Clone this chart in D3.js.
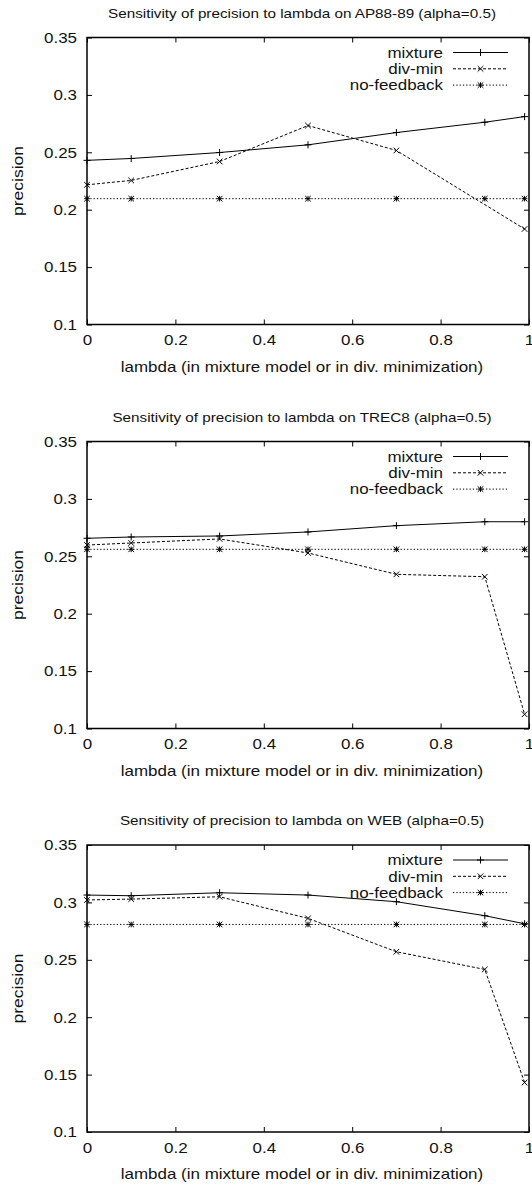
<!DOCTYPE html>
<html>
<head>
<meta charset="utf-8">
<script src="https://cdn.jsdelivr.net/npm/d3@7/dist/d3.min.js"></script>
<style>
  body { margin: 0; background: #fff; }
  text { font-family: "Liberation Sans", Arial, Helvetica, sans-serif; fill: #111; }
</style>
</head>
<body>
<svg id="chart" width="532" height="1189"></svg>
<script>
// lambda values used on every run
const lambdas = [0, 0.1, 0.3, 0.5, 0.7, 0.9, 0.99];

// AP88-89
const apMixture = [0.243, 0.2446, 0.2498, 0.2565, 0.2672, 0.2762, 0.2811];
const apDivMin = [0.2217, 0.2255, 0.242, 0.2733, 0.2516, null, 0.1832];
const apNoFeedback = [0.2096, 0.2096, 0.2096, 0.2096, 0.2096, 0.2096, 0.2096];

// TREC8
const trecMixture = [0.2657, 0.2668, 0.2677, 0.2712, 0.2767, 0.2801, 0.2801];
const trecDivMin = [0.2598, 0.2616, 0.2651, 0.2529, 0.2343, 0.2322, 0.1124];
const trecNoFeedback = [0.2561, 0.2561, 0.2561, 0.2561, 0.2561, 0.2561, 0.2561];

// WEB
const webMixture = [0.3064, 0.3058, 0.3084, 0.3064, 0.3006, 0.2884, 0.2814];
const webDivMin = [0.3021, 0.3029, 0.3049, 0.2861, 0.257, 0.2416, 0.1431];
const webNoFeedback = [0.2808, 0.2808, 0.2808, 0.2808, 0.2808, 0.2808, 0.2808];

const titles = [
  'Sensitivity of precision to lambda on AP88-89 (alpha=0.5)',
  'Sensitivity of precision to lambda on TREC8 (alpha=0.5)',
  'Sensitivity of precision to lambda on WEB (alpha=0.5)',
];
const seriesNames = ['mixture', 'div-min', 'no-feedback'];
const xTicks = [0, 0.2, 0.4, 0.6, 0.8, 1];
const xTickLabels = ['0', '0.2', '0.4', '0.6', '0.8', '1'];
const yTicks = [0.1, 0.15, 0.2, 0.25, 0.3, 0.35];
const yTickLabels = ['0.1', '0.15', '0.2', '0.25', '0.3', '0.35'];
const xLabel = 'lambda (in mixture model or in div. minimization)';
const yLabel = 'precision';

const panels = [
  { title: titles[0], series: [apMixture, apDivMin, apNoFeedback] },
  { title: titles[1], series: [trecMixture, trecDivMin, trecNoFeedback] },
  { title: titles[2], series: [webMixture, webDivMin, webNoFeedback] },
];

const STRETCH = 1.13;
const left = 87, right = 529, plotH = 287;
const tops = [37.5, 441.5, 845];

const svg = d3.select('#chart');

// helvetica in the original looks wider, so stretch text a bit
function widen(sel) {
  sel.each(function () {
    const w = this.getComputedTextLength();
    d3.select(this).attr('textLength', w * STRETCH).attr('lengthAdjust', 'spacingAndGlyphs');
  });
}

const dashes = [null, '3,2', '1.3,2'];

function marker(kind, r) {
  const p = d3.path();
  if (kind === 0 || kind === 2) {
    p.moveTo(-r, 0); p.lineTo(r, 0);
    p.moveTo(0, -r); p.lineTo(0, r);
  }
  if (kind === 1 || kind === 2) {
    p.moveTo(-r, -r); p.lineTo(r, r);
    p.moveTo(-r, r); p.lineTo(r, -r);
  }
  return p.toString();
}

panels.forEach((panel, pi) => {
  const top = tops[pi];
  const bottom = top + plotH;

  const x = d3.scaleLinear().domain([0, 1]).range([left, right]);
  const y = d3.scaleLinear().domain([0.1, 0.35]).range([bottom, top]);

  const g = svg.append('g');

  // title
  g.append('text')
    .attr('x', 302)
    .attr('y', top - 20)
    .attr('text-anchor', 'middle')
    .style('font-size', '13.5px')
    .text(panel.title)
    .call(widen);

  // axes with inward ticks (gnuplot style, mirrored)
  const fmtX = d => xTickLabels[xTicks.indexOf(d)];
  const fmtY = d => yTickLabels[yTicks.indexOf(d)];

  const axB = g.append('g').attr('transform', `translate(0,${bottom})`)
    .call(d3.axisBottom(x).tickValues(xTicks).tickFormat(fmtX).tickSize(-5).tickPadding(10));
  const axT = g.append('g').attr('transform', `translate(0,${top})`)
    .call(d3.axisTop(x).tickValues(xTicks).tickFormat('').tickSize(-5));
  const axL = g.append('g').attr('transform', `translate(${left},0)`)
    .call(d3.axisLeft(y).tickValues(yTicks).tickFormat(fmtY).tickSize(-5).tickPadding(10));
  const axR = g.append('g').attr('transform', `translate(${right},0)`)
    .call(d3.axisRight(y).tickValues(yTicks).tickFormat('').tickSize(-5));

  [axB, axT, axL, axR].forEach(a => {
    a.select('.domain').remove();
    a.selectAll('line').attr('stroke', '#000').attr('stroke-width', 1);
    a.selectAll('text').attr('font-family', null).style('font-size', '15px');
  });
  axB.selectAll('text').attr('dy', '0.71em');
  axB.selectAll('text').call(widen);
  axL.selectAll('text').call(widen);

  // frame
  g.append('rect')
    .attr('x', left).attr('y', top)
    .attr('width', right - left).attr('height', plotH)
    .attr('fill', 'none').attr('stroke', '#000').attr('stroke-width', 1.5);

  // axis labels
  g.append('text')
    .attr('x', 302).attr('y', bottom + 47)
    .attr('text-anchor', 'middle')
    .style('font-size', '15px')
    .text(xLabel)
    .call(widen);
  g.append('text')
    .attr('transform', `translate(23,${(top + bottom) / 2}) rotate(-90)`)
    .attr('text-anchor', 'middle')
    .style('font-size', '15.5px')
    .text(yLabel)
    .call(widen);

  // lines and points
  const line = d3.line().x(d => x(d[0])).y(d => y(d[1]));
  panel.series.forEach((vals, si) => {
    const pts = lambdas.map((l, i) => [l, vals[i]]).filter(p => p[1] != null);
    g.append('path')
      .attr('d', line(pts))
      .attr('fill', 'none')
      .attr('stroke', '#000')
      .attr('stroke-width', 1)
      .attr('stroke-dasharray', dashes[si]);
    g.selectAll(null)
      .data(pts)
      .enter()
      .append('path')
      .attr('transform', d => `translate(${x(d[0])},${y(d[1])})`)
      .attr('d', marker(si, si === 0 ? 3.5 : 2.8))
      .attr('stroke', '#000')
      .attr('stroke-width', 1)
      .attr('fill', 'none');
  });

  // legend
  const leg = g.append('g');
  seriesNames.forEach((name, si) => {
    const ly = top + 15 + si * 16.3;
    leg.append('text')
      .attr('x', 443).attr('y', ly)
      .attr('dy', '0.35em')
      .attr('text-anchor', 'end')
      .style('font-size', '15px')
      .text(name)
      .call(widen);
    leg.append('line')
      .attr('x1', 453).attr('x2', 508)
      .attr('y1', ly).attr('y2', ly)
      .attr('stroke', '#000').attr('stroke-width', 1)
      .attr('stroke-dasharray', dashes[si]);
    leg.append('path')
      .attr('transform', `translate(480.5,${ly})`)
      .attr('d', marker(si, si === 0 ? 3.5 : 2.8))
      .attr('stroke', '#000').attr('stroke-width', 1)
      .attr('fill', 'none');
  });
});
</script>
</body>
</html>
